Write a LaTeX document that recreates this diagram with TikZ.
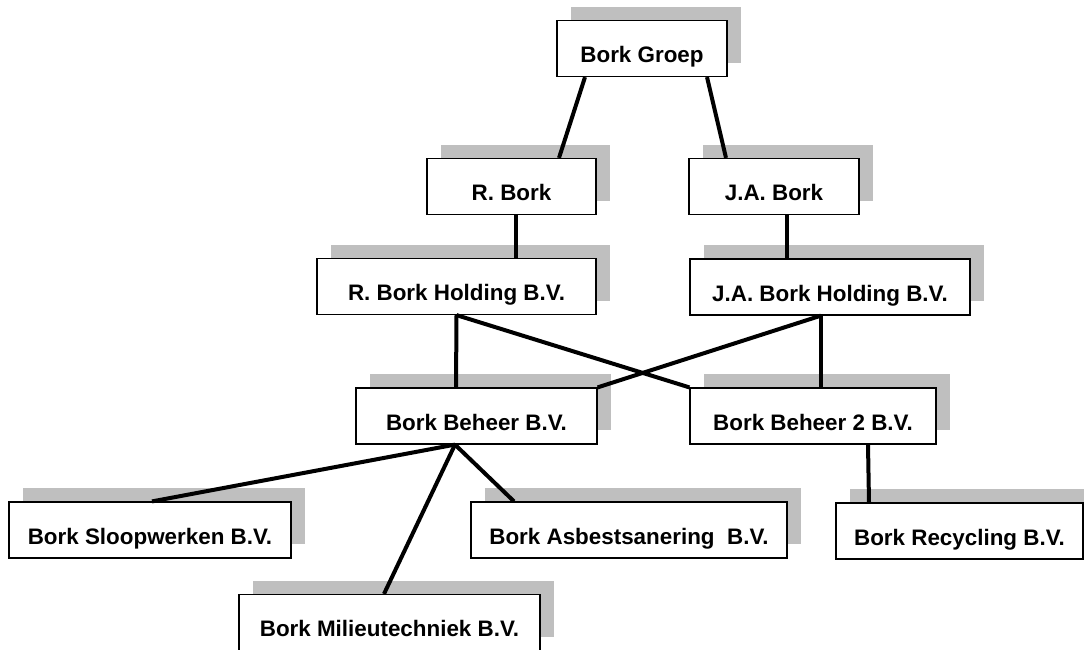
\documentclass[tikz,border=0pt]{standalone}
\usepackage{fontspec}
\setmainfont{Liberation Sans}
\usetikzlibrary{shadows}
\tikzset{
  unit/.style={draw, line width=1.2pt, fill=white,
    font=\bfseries\fontsize{22.4}{25}\selectfont,
    inner xsep=0pt, inner ysep=0pt, text height=42pt, text depth=14pt,
    drop shadow={shadow xshift=14pt, shadow yshift=14pt, fill=black!25, opacity=1}},
  link/.style={line width=4pt}
}
\begin{document}
\begin{tikzpicture}[x=1pt, y=-1pt]
      \useasboundingbox (0,0) rectangle (1084,649);
      \path
        (642,48.5) node[unit, minimum width=170pt] (groep){Bork Groep}
        (511.5,186.5) node[unit, minimum width=169pt] (rbork){R. Bork}
        (774,186.5) node[unit, minimum width=170pt] (jabork){J.A. Bork}
        (456.5,286.5) node[unit, minimum width=279pt] (rhold){R. Bork Holding B.V.}
        (830,287) node[unit, minimum width=280pt] (jahold){J.A. Bork Holding B.V.}
        (476.5,416) node[unit, minimum width=241pt] (beheer){Bork Beheer B.V.}
        (813,416) node[unit, minimum width=246pt] (beheertwee){Bork Beheer 2 B.V.}
        (150,530) node[unit, minimum width=282pt] (sloop){Bork Sloopwerken B.V.}
        (629,530) node[unit, minimum width=316pt] (asbest){Bork Asbestsanering~ B.V.}
        (959.5,531) node[unit, minimum width=247pt] (recycling){Bork Recycling B.V.}
        (389.5,622.5) node[unit, minimum width=301pt] (milieu){Bork Milieutechniek B.V.};
      \begin{scope}[link]
        \draw ([xshift=-57pt]groep.south) to ([xshift=47.5pt]rbork.north);
        \draw ([xshift=65pt]groep.south) to ([xshift=-48pt]jabork.north);
        \draw ([xshift=4.5pt]rbork.south) to ([xshift=59.5pt]rhold.north);
        \draw ([xshift=13pt]jabork.south) to ([xshift=-43pt]jahold.north);
        \draw (rhold.south) to ([xshift=-20.5pt]beheer.north);
        \draw (rhold.south) to (beheertwee.north west);
        \draw ([xshift=-9pt]jahold.south) to (beheer.north east);
        \draw ([xshift=-9pt]jahold.south) to ([xshift=8pt]beheertwee.north);
        \draw ([xshift=-21.5pt]beheer.south) to ([xshift=2pt]sloop.north);
        \draw ([xshift=-21.5pt]beheer.south) to ([xshift=-5.5pt]milieu.north);
        \draw ([xshift=-21.5pt]beheer.south) to ([xshift=-115pt]asbest.north);
        \draw ([xshift=55pt]beheertwee.south) to ([xshift=-90.5pt]recycling.north);
      \end{scope}
    \end{tikzpicture}
\end{document}
